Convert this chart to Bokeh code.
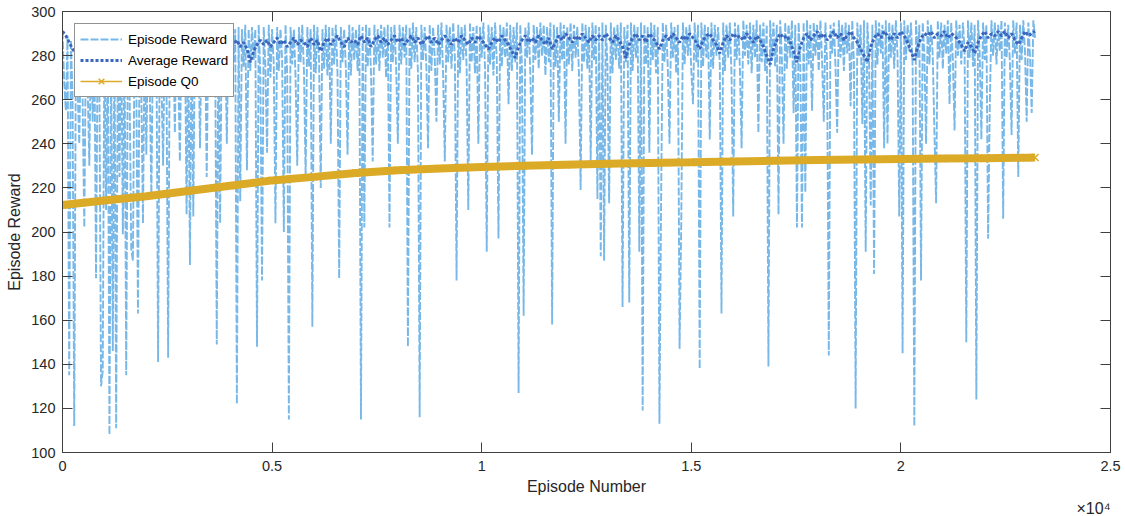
from bokeh.plotting import figure
from bokeh.models import Range1d, LinearAxis, FixedTicker, Legend, LegendItem, Title
from bokeh.embed import file_html
from bokeh.resources import INLINE

# ---------------- data ----------------
# Episode reward, one value every 40 episodes
episode_reward = [
    291, 268, 255, 289, 135, 287, 262, 112, 288, 265, 240, 289, 260, 202, 290, 266, 230, 291, 250, 288,
    179, 290, 268, 130, 137, 291, 210, 289, 108, 290, 146, 291, 111, 288, 225, 292, 199, 289, 135, 291,
    266, 192, 187, 292, 270, 163, 291, 264, 204, 292, 235, 290, 268, 215, 292, 272, 291, 141, 293, 269,
    230, 292, 271, 143, 293, 268, 291, 245, 293, 274, 232, 292, 270, 293, 208, 291, 185, 293, 207, 292,
    273, 293, 238, 292, 275, 293, 225, 291, 271, 294, 276, 292, 149, 293, 204, 292, 274, 293, 240, 292,
    272, 293, 277, 292, 122, 293, 214, 292, 275, 294, 228, 292, 273, 293, 278, 292, 148, 294, 271, 178,
    293, 275, 236, 294, 270, 292, 276, 204, 293, 273, 292, 278, 200, 294, 272, 115, 293, 276, 292, 270,
    230, 293, 277, 294, 273, 225, 293, 275, 292, 157, 294, 272, 293, 278, 220, 292, 274, 294, 271, 293,
    240, 293, 276, 294, 272, 179, 293, 277, 292, 274, 235, 294, 271, 293, 278, 292, 273, 294, 115, 293,
    202, 294, 275, 293, 272, 232, 294, 276, 292, 273, 294, 279, 293, 270, 294, 202, 293, 277, 294, 274,
    240, 294, 276, 293, 279, 294, 148, 293, 274, 295, 277, 293, 272, 116, 294, 278, 293, 275, 238, 294,
    273, 293, 279, 250, 294, 276, 295, 271, 232, 294, 277, 293, 274, 295, 279, 178, 294, 272, 293, 278,
    294, 275, 210, 295, 277, 293, 272, 294, 240, 293, 279, 295, 274, 191, 294, 276, 293, 271, 295, 278,
    197, 294, 275, 293, 279, 295, 258, 294, 273, 293, 277, 295, 127, 294, 276, 162, 293, 279, 295, 272,
    235, 294, 278, 293, 274, 295, 280, 294, 271, 293, 277, 295, 158, 294, 275, 293, 250, 295, 278, 294,
    240, 293, 276, 295, 273, 294, 279, 293, 272, 219, 295, 277, 294, 274, 293, 232, 295, 278, 294, 215,
    293, 189, 295, 187, 294, 276, 213, 295, 272, 293, 278, 294, 274, 295, 166, 293, 277, 294, 168, 295,
    273, 294, 279, 293, 191, 295, 119, 294, 276, 293, 236, 295, 278, 294, 272, 293, 113, 215, 295, 277,
    294, 274, 240, 295, 279, 293, 272, 294, 147, 203, 295, 276, 293, 280, 294, 273, 258, 295, 277, 294,
    138, 295, 275, 294, 279, 293, 242, 295, 274, 294, 280, 293, 276, 163, 295, 273, 294, 279, 295, 271,
    207, 295, 278, 294, 274, 238, 296, 280, 294, 276, 295, 272, 294, 279, 296, 245, 294, 277, 295, 273,
    294, 139, 296, 278, 295, 275, 294, 208, 296, 280, 240, 295, 274, 294, 279, 296, 254, 294, 202, 295,
    277, 202, 295, 218, 296, 276, 294, 255, 295, 280, 294, 273, 296, 278, 250, 295, 276, 144, 294, 281,
    295, 275, 245, 296, 279, 294, 273, 295, 281, 294, 257, 296, 277, 120, 295, 280, 294, 249, 296, 191,
    295, 278, 212, 294, 181, 296, 276, 295, 281, 294, 238, 296, 240, 295, 279, 294, 274, 296, 280, 207,
    295, 145, 296, 278, 294, 282, 295, 275, 112, 296, 279, 294, 178, 295, 281, 240, 296, 276, 294, 280,
    245, 213, 296, 279, 295, 274, 294, 281, 296, 258, 295, 278, 246, 296, 280, 294, 276, 295, 282, 150,
    296, 279, 295, 275, 294, 124, 296, 281, 242, 295, 278, 294, 197, 257, 296, 280, 295, 276, 294, 282,
    296, 206, 295, 279, 294, 277, 244, 296, 281, 295, 225, 294, 278, 296, 282, 250, 295, 280, 254, 296,
    288,
]

# Average reward, one value every 80 episodes
average_reward = [
    291, 289, 286, 283, 281, 282, 279, 281, 280, 282, 279, 283, 281, 280, 282, 281, 283, 280, 282, 284,
    282, 284, 283, 285, 282, 284, 286, 283, 285, 282, 284, 286, 283, 285, 284, 286, 283, 285, 287, 284,
    286, 282, 285, 287, 284, 286, 285, 287, 284, 286, 288, 285, 287, 284, 286, 283, 277, 282, 285, 287,
    285, 287, 284, 286, 288, 285, 287, 284, 286, 288, 285, 287, 286, 284, 288, 285, 287, 282, 286, 288,
    285, 287, 289, 286, 284, 288, 286, 287, 285, 289, 286, 288, 284, 287, 289, 286, 288, 285, 287, 289,
    286, 288, 285, 287, 289, 286, 288, 285, 287, 289, 286, 288, 285, 287, 289, 287, 285, 288, 286, 289,
    287, 285, 288, 286, 289, 287, 285, 283, 286, 288, 286, 289, 287, 285, 282, 279, 284, 287, 289, 286,
    288, 286, 289, 287, 285, 288, 283, 286, 289, 287, 290, 288, 286, 289, 287, 290, 288, 286, 289, 287,
    289, 287, 290, 288, 286, 289, 287, 284, 279, 285, 288, 290, 287, 289, 286, 290, 288, 286, 283, 287,
    289, 287, 290, 288, 286, 289, 287, 290, 288, 286, 283, 287, 289, 290, 287, 285, 281, 286, 289, 287,
    290, 288, 289, 287, 290, 288, 286, 289, 287, 284, 280, 276, 283, 287, 290, 288, 289, 286, 282, 277,
    284, 288, 290, 287, 289, 291, 288, 290, 287, 289, 291, 288, 290, 287, 289, 291, 288, 286, 283, 280,
    277, 284, 288, 290, 288, 291, 289, 287, 290, 288, 291, 289, 286, 282, 278, 284, 288, 290, 289, 291,
    288, 290, 289, 291, 288, 290, 289, 287, 285, 282, 286, 284, 281, 286, 289, 291, 288, 290, 289, 291,
    289, 291, 288, 290, 287, 285, 288, 291, 289, 290, 291,
]

# Episode Q0 (critic estimate)
q0_episode = [0, 1000, 2000, 3000, 4000, 5000, 6000, 7000, 8000, 9000, 10000, 11000,
              12000, 13000, 14000, 15000, 16000, 17000, 18000, 19000, 20000, 21000,
              22000, 23000, 23200]
episode_q0 = [212.2, 214.3, 216.2, 218.6, 221.0, 223.4, 225.0, 226.8, 228.0, 228.8, 229.5, 230.0,
              230.5, 230.9, 231.3, 231.6, 232.0, 232.3, 232.6, 232.9, 233.1, 233.3,
              233.5, 233.7, 233.8]

x_ticks = [0, 5000, 10000, 15000, 20000, 25000]
x_tick_labels = ["0", "0.5", "1", "1.5", "2", "2.5"]
y_ticks = [100, 120, 140, 160, 180, 200, 220, 240, 260, 280, 300]

reward_episode = [i * 40 for i in range(len(episode_reward))]
average_episode = [i * 80 for i in range(len(average_reward))]

# ---------------- figure ----------------
FONT = "Liberation Sans"
AX = "#404040"
TXT = "#262626"

p = figure(width=1125, height=516, x_range=Range1d(0, 25000), y_range=Range1d(100, 300),
           output_backend="svg", toolbar_location=None,
           min_border_left=62, min_border_right=15, min_border_top=11, min_border_bottom=58,
           background_fill_color="white", border_fill_color="white")
p.grid.visible = False
p.outline_line_color = AX
p.outline_line_width = 1

def style_axis(ax, show_labels):
    ax.axis_line_color = AX
    ax.axis_line_width = 1
    ax.major_tick_line_color = AX
    ax.major_tick_in = 10
    ax.major_tick_out = 0
    ax.minor_tick_line_color = None
    ax.major_label_text_font = FONT
    ax.major_label_text_color = TXT
    if not show_labels:
        ax.major_label_text_font_size = "0px"
        ax.major_label_text_color = None
        ax.major_label_standoff = 0

p.xaxis.ticker = FixedTicker(ticks=x_ticks)
p.xaxis.major_label_overrides = {t: l for t, l in zip(x_ticks, x_tick_labels)}
p.yaxis.ticker = FixedTicker(ticks=y_ticks)
for ax in (p.xaxis[0], p.yaxis[0]):
    style_axis(ax, True)
    ax.major_label_text_font_size = "14.5px"
    ax.axis_label_text_font = FONT
    ax.axis_label_text_font_size = "16px"
    ax.axis_label_text_font_style = "normal"
    ax.axis_label_text_color = TXT
p.xaxis.axis_label = "Episode Number"
p.xaxis.major_label_standoff = 8
p.xaxis.axis_label_standoff = 4
p.yaxis.axis_label = "Episode Reward"
p.yaxis.major_label_standoff = 7
p.yaxis.axis_label_standoff = 5

ax_top = LinearAxis(ticker=FixedTicker(ticks=x_ticks))
style_axis(ax_top, False)
p.add_layout(ax_top, "above")
ax_right = LinearAxis(ticker=FixedTicker(ticks=y_ticks))
style_axis(ax_right, False)
p.add_layout(ax_right, "right")

# ---------------- series ----------------
r_reward = p.line(reward_episode, episode_reward, line_color="#78B8E8", line_width=1.9,
                  line_dash="8 2")
r_avg = p.line(average_episode, average_reward, line_color="#3A66BE", line_width=3,
               line_dash="3 2")
q0_color = "#DBAA27"
p.line(q0_episode, episode_q0, line_color=q0_color, line_width=8)
r_q0_line = p.line(q0_episode, episode_q0, line_color=q0_color, line_width=1.5)
r_q0_marks = p.scatter(q0_episode, episode_q0, marker="x", size=10, line_color=q0_color,
                       line_width=1.5)

legend = Legend(items=[
    LegendItem(label="Episode Reward", renderers=[r_reward]),
    LegendItem(label="Average Reward", renderers=[r_avg]),
    LegendItem(label="Episode Q0", renderers=[r_q0_line, r_q0_marks]),
], location="top_left")
legend.border_line_color = "#262626"
legend.border_line_width = 1
legend.background_fill_color = "white"
legend.background_fill_alpha = 1
legend.label_text_font = FONT
legend.label_text_font_size = "13.5px"
legend.label_text_color = "black"
legend.glyph_width = 42
legend.glyph_height = 20
legend.label_height = 20
legend.label_standoff = 6
legend.padding = 5
legend.spacing = 1
legend.margin = 12
p.add_layout(legend)

exp_title = Title(text="×10⁴", align="right", text_font=FONT, text_font_size="16px",
                  text_font_style="normal", text_color=TXT, standoff=0, offset=0)
p.add_layout(exp_title, "below")

open("out.html", "w").write(file_html(p, INLINE))
